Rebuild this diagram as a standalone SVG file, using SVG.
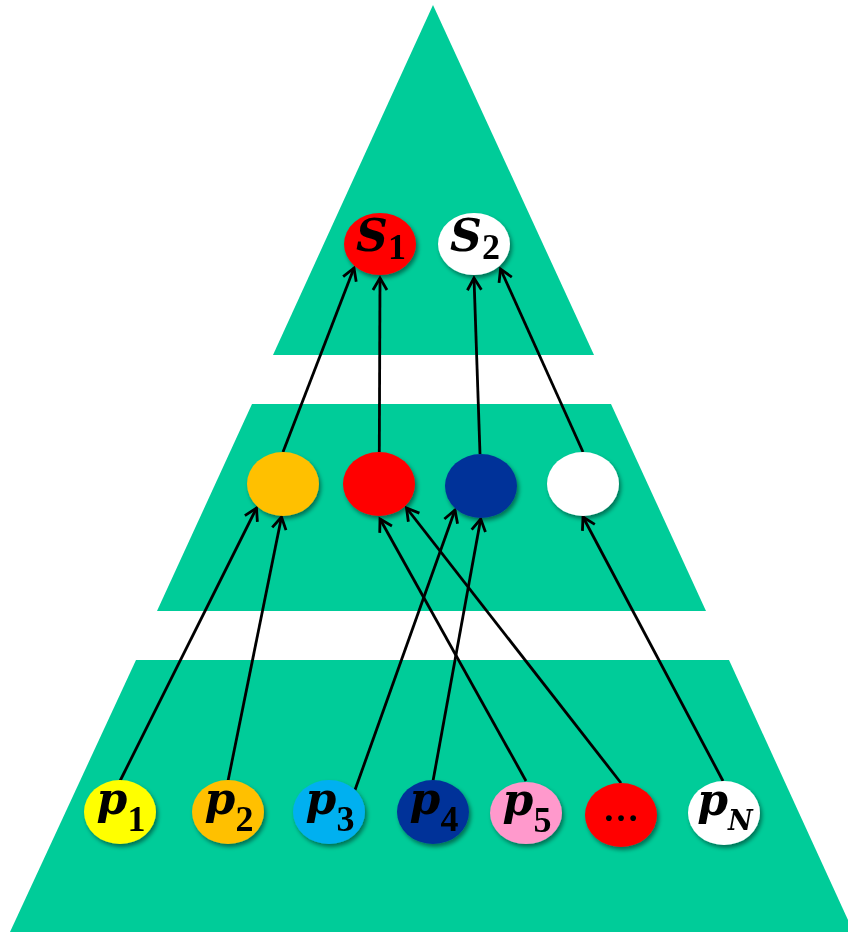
<svg xmlns="http://www.w3.org/2000/svg" width="848" height="934" viewBox="0 0 848 934">
<style>
.band{fill:#00CC99;}
.node{filter:url(#sh);}
.lbl{font-family:"Liberation Serif","DejaVu Serif",serif;font-weight:bold;fill:#000;text-anchor:middle;}
.main{font-family:"DejaVu Serif","Liberation Serif",serif;font-style:italic;font-size:44px;}
.sub{font-size:36px;font-style:normal;}
.subi{font-family:"DejaVu Serif","Liberation Serif",serif;font-size:27px;font-style:italic;}
.edge{stroke:#000;stroke-width:2.8;fill:none;marker-end:url(#arr);}
</style>
<defs>
<filter id="sh" x="-30%" y="-30%" width="170%" height="170%">
<feDropShadow dx="2" dy="3" stdDeviation="2" flood-color="#000" flood-opacity="0.45"/>
</filter>
<marker id="arr" markerUnits="userSpaceOnUse" markerWidth="20" markerHeight="20" viewBox="-14 -10 16 20" refX="0" refY="0" orient="auto">
<path d="M-12,-7 L0,0 L-12,7" fill="none" stroke="#000" stroke-width="2.8" stroke-linejoin="miter"/>
</marker>
</defs>
<rect width="848" height="934" fill="#fff"/>
<g id="pyramid">
<polygon class="band" points="433,5 594,355 273,355"/>
<polygon class="band" points="252,404 611,404 706,611 157,611"/>
<polygon class="band" points="136,660 729,660 848,920 848,932 10,932"/>
</g>
<g id="connectors">
<line class="edge" x1="120" y1="781" x2="256.5" y2="508"/>
<line class="edge" x1="228" y1="781" x2="281.5" y2="517"/>
<line class="edge" x1="355" y1="790" x2="455" y2="510"/>
<line class="edge" x1="433" y1="781" x2="480.7" y2="519"/>
<line class="edge" x1="526" y1="781" x2="380" y2="519"/>
<line class="edge" x1="621" y1="783" x2="406.5" y2="508"/>
<line class="edge" x1="723" y1="781" x2="583" y2="517"/>
<line class="edge" x1="283" y1="452" x2="354" y2="268"/>
<line class="edge" x1="379.3" y1="452" x2="380" y2="278"/>
<line class="edge" x1="480" y1="454" x2="474" y2="278"/>
<line class="edge" x1="583" y1="452" x2="500.5" y2="269"/>
</g>
<g id="S1" class="node"><ellipse cx="380" cy="244" rx="36" ry="31" fill="#FF0000"/>
<text class="lbl" x="381" y="251"><tspan class="main">S</tspan><tspan class="sub" dy="8">1</tspan></text></g>
<g id="S2" class="node"><ellipse cx="474" cy="244" rx="36" ry="31" fill="#FFFFFF"/>
<text class="lbl" x="475" y="251"><tspan class="main">S</tspan><tspan class="sub" dy="8">2</tspan></text></g>
<g id="m1" class="node"><ellipse cx="283" cy="484" rx="36" ry="32" fill="#FFC000"/></g>
<g id="m2" class="node"><ellipse cx="379" cy="484" rx="36" ry="32" fill="#FF0000"/></g>
<g id="m3" class="node"><ellipse cx="481" cy="486" rx="36" ry="32" fill="#003399"/></g>
<g id="m4" class="node"><ellipse cx="583" cy="484" rx="36" ry="32" fill="#FFFFFF"/></g>
<g id="p1" class="node"><ellipse cx="120" cy="812" rx="36" ry="32" fill="#FFFF00"/>
<text class="lbl" x="121" y="814"><tspan class="main">p</tspan><tspan class="sub" dy="17">1</tspan></text></g>
<g id="p2" class="node"><ellipse cx="228" cy="812" rx="36" ry="32" fill="#FFC000"/>
<text class="lbl" x="229" y="814"><tspan class="main">p</tspan><tspan class="sub" dy="17">2</tspan></text></g>
<g id="p3" class="node"><ellipse cx="329" cy="812" rx="36" ry="32" fill="#00B0F0"/>
<text class="lbl" x="330" y="814"><tspan class="main">p</tspan><tspan class="sub" dy="17">3</tspan></text></g>
<g id="p4" class="node"><ellipse cx="433" cy="812" rx="36" ry="32" fill="#003399"/>
<text class="lbl" x="434" y="814"><tspan class="main">p</tspan><tspan class="sub" dy="17">4</tspan></text></g>
<g id="p5" class="node"><ellipse cx="526" cy="813" rx="36" ry="31" fill="#FF99CC"/>
<text class="lbl" x="527" y="815"><tspan class="main">p</tspan><tspan class="sub" dy="17">5</tspan></text></g>
<g id="pdots" class="node"><ellipse cx="621" cy="815" rx="36" ry="32" fill="#FF0000"/>
<text class="lbl" x="621" y="821" style="font-size:36px">…</text></g>
<g id="pN" class="node"><ellipse cx="724" cy="813" rx="36" ry="32" fill="#FFFFFF"/>
<text class="lbl" x="725" y="815"><tspan class="main">p</tspan><tspan class="subi" dy="15">N</tspan></text></g>
</svg>
